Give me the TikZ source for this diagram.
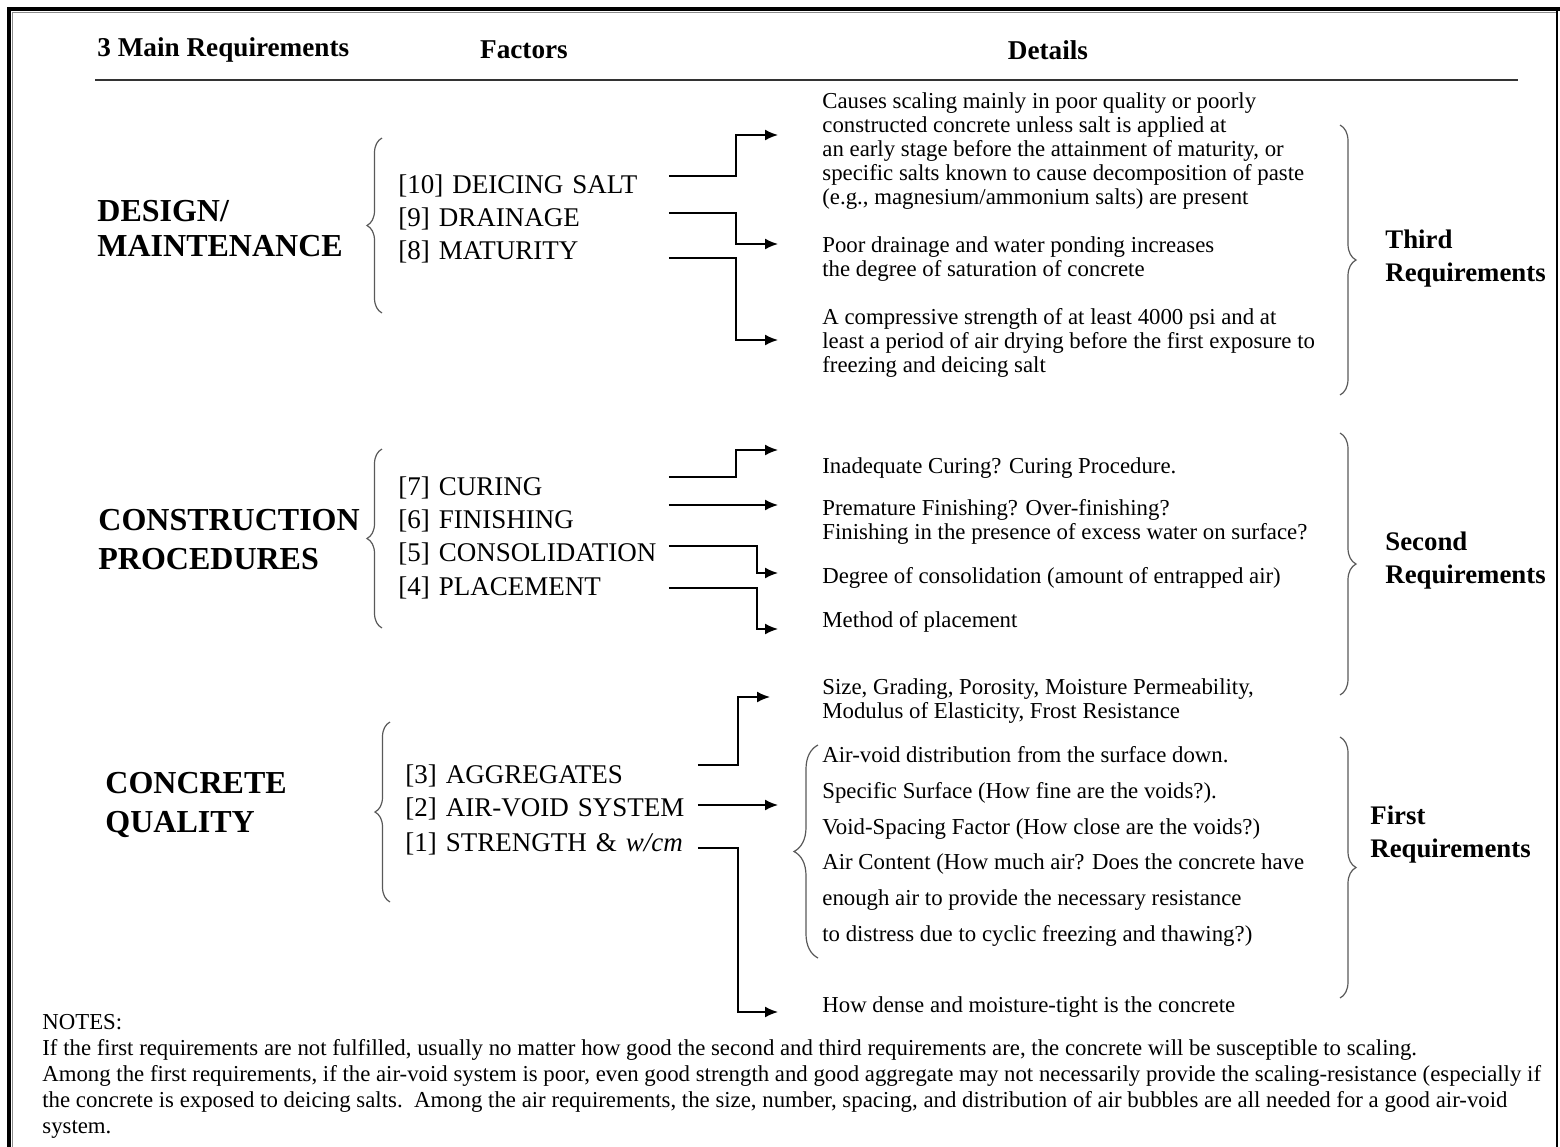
\documentclass[tikz,border=0pt]{standalone}
\usepackage{fontspec}
\setmainfont{Liberation Serif}
\usetikzlibrary{arrows.meta,calc,decorations.pathreplacing}

\tikzset{
  hdr/.style={font=\fontsize{13.6}{16}\selectfont\bfseries, inner sep=0pt},
  req/.style={font=\fontsize{16}{17.5}\selectfont\bfseries, align=left, anchor=west, inner sep=0pt},
  factor/.style={font=\fontsize{13.5}{16}\selectfont, anchor=west, inner sep=0pt, text width=135pt, align=left},
  detail/.style={font=\fontsize{11.4}{12}\selectfont, align=left, anchor=west, inner sep=0pt},
  side/.style={font=\fontsize{13.4}{16.5}\selectfont\bfseries, align=left, anchor=west, inner sep=0pt},
  notes/.style={font=\fontsize{11.4}{13}\selectfont, align=left, anchor=north west, inner sep=0pt},
  arr/.style={line width=0.85pt, -{Latex[length=6.5pt,width=5.5pt]}},
  brc/.style={decorate, decoration={brace, amplitude=#1}, draw=black!65, line width=0.6pt},
  brc/.default=7.5pt
}

\begin{document}
\begin{tikzpicture}[x=0.5pt, y=-0.5pt]
   \useasboundingbox (0,0) rectangle (1560,1147);
   % frame
   \draw[line width=2pt] (9,1160) -- (9,9) -- (1570,9);
   \draw[black!45, line width=0.75pt] (12.5,1160) -- (12.5,12.5) -- (1557,12.5);
   \draw[line width=0.75pt] (1557,9) -- (1557,1160);

   % column heads
   \path (97,50) node[hdr, anchor=west] (h1) {3 Main Requirements};
   \path (524,50) node[hdr] (h2) {Factors};
   \path (1048,50) node[hdr] (h3) {Details};
   \draw[line width=1pt, black!80] (95,80) -- (1518,80);

   % main requirements
   \path (97,228.5) node[req] (design) {DESIGN/\\MAINTENANCE};
   \path (98,539.5) node[req, font=\fontsize{16}{19.5}\selectfont\bfseries] (constr) {CONSTRUCTION\\PROCEDURES};
   \path (105,804.5) node[req, font=\fontsize{16}{19.5}\selectfont\bfseries] (quality) {CONCRETE\\QUALITY};

   % factors
   \path (398,186) node[factor] (f10) {[10] DEICING SALT};
   \path (398,219) node[factor] (f9) {[9] DRAINAGE};
   \path (398,252) node[factor] (f8) {[8] MATURITY};
   \path (398,488) node[factor] (f7) {[7] CURING};
   \path (398,521) node[factor] (f6) {[6] FINISHING};
   \path (398,554) node[factor] (f5) {[5] CONSOLIDATION};
   \path (398,588) node[factor] (f4) {[4] PLACEMENT};
   \path (405,776) node[factor, text width=146pt] (f3) {[3] AGGREGATES};
   \path (405,809) node[factor, text width=146pt] (f2) {[2] AIR-VOID SYSTEM};
   \path (405,844) node[factor, text width=146pt] (f1) {[1] STRENGTH \& \textit{w/cm}};

   \draw[brc] (382,313) -- (382,138);
   \draw[brc] (382,628) -- (382,449);
   \draw[brc] (390,902) -- (390,722);

   % details
   \path (822,151.5) node[detail] (d10) {Causes scaling mainly in poor quality or poorly\\
     constructed concrete unless salt is applied at\\
     an early stage before the attainment of maturity, or\\
     specific salts known to cause decomposition of paste\\
     (e.g., magnesium/ammonium salts) are present};
   \path (822,259) node[detail] (d9) {Poor drainage and water ponding increases\\
     the degree of saturation of concrete};
   \path (822,343) node[detail] (d8) {A compressive strength of at least 4000 psi and at\\
     least a period of air drying before the first exposure to\\
     freezing and deicing salt};
   \path (822,468) node[detail] (d7) {Inadequate Curing? Curing Procedure.};
   \path (822,521.5) node[detail] (d6) {Premature Finishing? Over-finishing?\\
     Finishing in the presence of excess water on surface?};
   \path (822,578) node[detail] (d5) {Degree of consolidation (amount of entrapped air)};
   \path (822,622) node[detail] (d4) {Method of placement};
   \path (822,701.5) node[detail] (d3) {Size, Grading, Porosity, Moisture Permeability,\\
     Modulus of Elasticity, Frost Resistance};
   \path (822,846.5) node[detail, font=\fontsize{11.4}{17.9}\selectfont] (d2) {Air-void distribution from the surface down.\\
     Specific Surface (How fine are the voids?).\\
     Void-Spacing Factor (How close are the voids?)\\
     Air Content (How much air? Does the concrete have\\
     enough air to provide the necessary resistance\\
     to distress due to cyclic freezing and thawing?)};
   \path (822,1007) node[detail] (d1) {How dense and moisture-tight is the concrete};

   \draw[brc=12pt] (818,958) -- (818,745);

   % connectors
   \draw[arr] ([yshift=5pt]f10.east) -- ++(67,0) |- ($(d10.west)+(-44,-16.5)$);
   \draw[arr] ([yshift=3pt]f9.east) -- ++(67,0) |- ($(d9.west)+(-44,-15)$);
   \draw[arr] ([yshift=-3pt]f8.east) -- ++(67,0) |- ($(d8.west)+(-44,-3)$);
   \draw[arr] ([yshift=5.5pt]f7.east) -- ++(67,0) |- ($(d7.west)+(-44,-18)$);
   \draw[arr] ([yshift=8pt]f6.east) -- ($(d6.west)+(-44,-16.5)$);
   \draw[arr] ([yshift=4pt]f5.east) -- ++(88,0) |- ($(d5.west)+(-44,-5)$);
   \draw[arr] (f4.east) -- ++(88,0) |- ($(d4.west)+(-44,7)$);
   \draw[arr] ([yshift=5.5pt]f3.east) -- ++(40,0) |- ($(d3.west)+(-52,-4.5)$);
   \draw[arr] ([yshift=2pt]f2.east) -- ($(d2.west)+(-44,-41.5)$);
   \draw[arr] ([yshift=-2pt]f1.east) -- ++(40,0) |- ($(d1.west)+(-44,5)$);

   % requirement levels
   \draw[brc=8pt] (1340,125) -- (1340,395);
   \draw[brc=8pt] (1340,433) -- (1340,695);
   \draw[brc=8pt] (1340,737) -- (1340,998);
   \path (1385,258.5) node[side] (third) {Third\\Requirements};
   \path (1385,560.5) node[side] (second) {Second\\Requirements};
   \path (1370,834.5) node[side] (first) {First\\Requirements};

   % notes
   \path (42,1014) node[notes] (notes) {NOTES:\\
     If the first requirements are not fulfilled, usually no matter how good the second and third requirements are, the concrete will be susceptible to scaling.\\
     Among the first requirements, if the air-void system is poor, even good strength and good aggregate may not necessarily provide the scaling-resistance (especially if\\
     the concrete is exposed to deicing salts.\ \ Among the air requirements, the size, number, spacing, and distribution of air bubbles are all needed for a good air-void\\
     system.};
\end{tikzpicture}
\end{document}
